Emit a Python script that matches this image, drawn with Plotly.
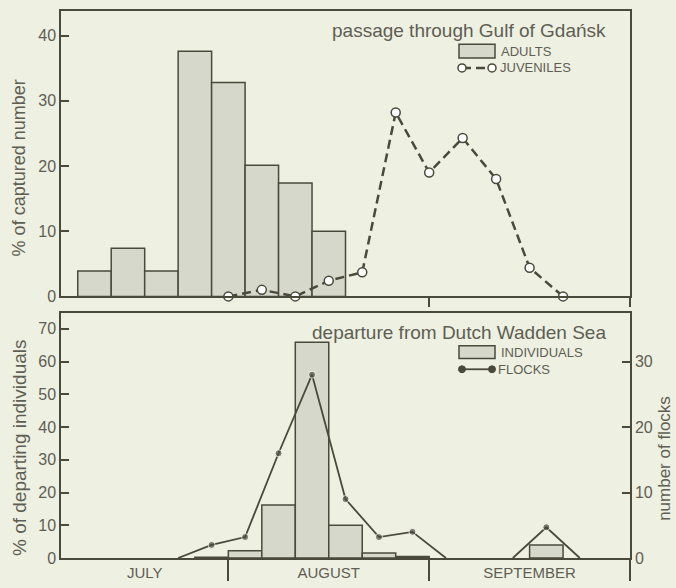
import plotly.graph_objects as go

W, H = 676, 588

# ---------------- data ----------------
# x unit = 5-day period (pentad); 0 = 1 August, 6 = 1 September
adult_x = [-4, -3, -2, -1, 0, 1, 2, 3]
adult_pct = [3.9, 7.4, 3.9, 37.6, 32.8, 20.1, 17.4, 10.0]

juv_x = [0, 1, 2, 3, 4, 5, 6, 7, 8, 9, 10]
juv_pct = [0, 1.0, 0, 2.4, 3.7, 28.2, 19.0, 24.3, 18.0, 4.4, 0]

indiv_x = [-0.5, 0.5, 1.5, 2.5, 3.5, 4.5, 5.5, 9.5]
indiv_pct = [0.25, 2.2, 16.2, 65.9, 10.0, 1.5, 0.5, 4.0]

flock_x = [-1.5, -0.5, 0.5, 1.5, 2.5, 3.5, 4.5, 5.5, 6.5, None, 8.5, 9.5, 10.5]
flock_n = [0, 2.0, 3.2, 16.0, 28.0, 9.0, 3.2, 4.0, 0, None, 0, 4.7, 0]

month_pos = [-2.5, 3, 9]
month_labels = ["JULY", "AUGUST", "SEPTEMBER"]

# ---------------- style ----------------
BG = "#eef0e2"
BAR = "#d6d8cb"
INK = "#4a4a3c"
TXT = "#5e5e54"
FONT = "Liberation Sans, Arial, sans-serif"


def px(x):
    return x / W


def py(y):
    return 1 - y / H


XDOM = [px(61), px(630)]
TOP_DOM = [py(301), py(11)]
BOT_DOM = [py(566.7), py(318.3)]

fig = go.Figure()

fig.add_trace(go.Bar(x=adult_x, y=adult_pct, width=1, marker=dict(color=BAR, line=dict(color=INK, width=1.5)),
                     xaxis="x", yaxis="y", showlegend=False))
fig.add_trace(go.Scatter(x=juv_x, y=juv_pct, mode="lines+markers",
                         line=dict(color=INK, width=2.5, dash="9px,5px"),
                         marker=dict(symbol="circle", size=9, color="white", line=dict(color=INK, width=1.5)),
                         xaxis="x", yaxis="y", showlegend=False, cliponaxis=False))

fig.add_trace(go.Bar(x=indiv_x, y=indiv_pct, width=1, marker=dict(color=BAR, line=dict(color=INK, width=1.5)),
                     xaxis="x2", yaxis="y3", showlegend=False))
sizes = [0 if (v is None or v == 0) else 7 for v in flock_n]
fig.add_trace(go.Scatter(x=flock_x, y=flock_n, mode="lines+markers",
                         line=dict(color=INK, width=1.8),
                         marker=dict(symbol="circle", size=sizes, color=INK),
                         xaxis="x2", yaxis="y4", showlegend=False, connectgaps=False, cliponaxis=False))

axis_common = dict(showgrid=False, zeroline=False, showline=True, linecolor=INK, linewidth=1.5)
tickfont = dict(family=FONT, size=16, color=TXT)

fig.update_layout(
    width=W, height=H,
    margin=dict(l=0, r=0, t=0, b=0),
    paper_bgcolor=BG, plot_bgcolor=BG,
    barmode="overlay",
    font=dict(family=FONT, color=TXT),
    xaxis=dict(domain=XDOM, range=[-5, 12], anchor="y", mirror=True, showticklabels=False,
               ticks="", minor=dict(ticks="outside", tick0=0, dtick=6, ticklen=9, tickcolor=INK, tickwidth=1.5),
               **axis_common),
    yaxis=dict(domain=TOP_DOM, range=[0, 43.8], anchor="x", mirror=True,
               tickvals=[0, 10, 20, 30, 40], ticks="inside", ticklen=8, tickcolor=INK, tickwidth=1.5,
               tickfont=tickfont, **axis_common),
    xaxis2=dict(domain=XDOM, range=[-5, 12], anchor="y3", mirror=True,
                tickvals=month_pos, ticktext=month_labels, ticks="",
                tickfont=dict(family=FONT, size=15, color=TXT),
                minor=dict(ticks="outside", tick0=0, dtick=6, ticklen=21, tickcolor=INK, tickwidth=1.5),
                **axis_common),
    yaxis3=dict(domain=BOT_DOM, range=[0, 74.7], anchor="x2",
                tickvals=[0, 10, 20, 30, 40, 50, 60, 70], ticks="inside", ticklen=8, tickcolor=INK, tickwidth=1.5,
                tickfont=tickfont, **axis_common),
    yaxis4=dict(domain=BOT_DOM, range=[0, 37.35], anchor="x2", overlaying="y3", side="right",
                tickvals=[0, 10, 20, 30], ticks="inside", ticklen=8, tickcolor=INK, tickwidth=1.5,
                tickfont=tickfont, **axis_common),
)

ann = []
# axis titles
for xx, yy, t, fs in [(19, 171, "% of captured number", 18), (19, 455, "% of departing individuals", 19),
                      (665, 466, "number of flocks", 17)]:
    ann.append(dict(x=px(xx), y=py(yy), text=t, textangle=-90, showarrow=False,
                    xref="paper", yref="paper", xanchor="center", yanchor="middle",
                    font=dict(size=fs, color=TXT, family=FONT)))
# panel titles
ann.append(dict(x=px(608), y=py(31), text="passage through Gulf of Gdańsk", showarrow=False,
                xref="paper", yref="paper", xanchor="right", yanchor="middle",
                font=dict(size=19, color=TXT, family=FONT)))
ann.append(dict(x=px(608), y=py(338), text="departure from Dutch Wadden Sea", showarrow=False,
                xref="paper", yref="paper", xanchor="right", yanchor="middle",
                font=dict(size=19, color=TXT, family=FONT)))
# legend labels
for xx, yy, t in [(499, 52, "ADULTS"), (498, 69, "JUVENILES"), (499, 358, "INDIVIDUALS"), (496, 375, "FLOCKS")]:
    ann.append(dict(x=px(xx), y=py(yy), text=t, showarrow=False, xref="paper", yref="paper",
                    xanchor="left", yanchor="middle", font=dict(size=13, color=TXT, family=FONT)))
fig.update_layout(annotations=ann)

shapes = []
# legend boxes
for y0, y1 in [(45, 59), (351, 364)]:
    shapes.append(dict(type="rect", xref="paper", yref="paper", x0=px(459), x1=px(495), y0=py(y1), y1=py(y0),
                       fillcolor=BAR, line=dict(color=INK, width=1.5)))
# juveniles legend line
shapes.append(dict(type="line", xref="paper", yref="paper", x0=px(462), x1=px(492), y0=py(69), y1=py(69),
                   line=dict(color=INK, width=2.5, dash="9px,5px")))
for cx in [462, 492]:
    shapes.append(dict(type="circle", xref="paper", yref="paper", x0=px(cx - 4), x1=px(cx + 4),
                       y0=py(69 + 4), y1=py(69 - 4), fillcolor="white", line=dict(color=INK, width=1.5)))
# flocks legend line
shapes.append(dict(type="line", xref="paper", yref="paper", x0=px(462), x1=px(492), y0=py(375), y1=py(375),
                   line=dict(color=INK, width=1.8)))
for cx in [462, 492]:
    shapes.append(dict(type="circle", xref="paper", yref="paper", x0=px(cx - 3.5), x1=px(cx + 3.5),
                       y0=py(375 + 3.5), y1=py(375 - 3.5), fillcolor=INK, line=dict(color=INK, width=1)))
fig.update_layout(shapes=shapes)

fig.write_html("out.html")
